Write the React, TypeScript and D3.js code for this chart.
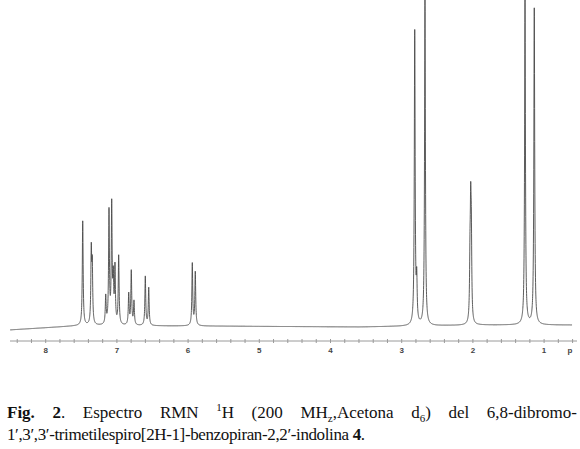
import React, { useLayoutEffect, useRef, useState } from "react";
import * as d3 from "d3";

// Peak positions (ppm) and heights (relative intensity, 0..100)
const peakPpm = [
  7.480, 7.360, 7.346, 7.157, 7.111, 7.073, 7.051, 7.027, 6.975,
  6.834, 6.798, 6.760, 6.601, 6.553, 5.941, 5.899,
  2.817, 2.789, 2.673, 2.041, 2.031, 2.022, 1.268, 1.138,
];
const peakHeight = [
  32, 22, 17, 8.5, 34.5, 36, 13, 17, 21,
  9.5, 16.5, 7.2, 15, 11.5, 19, 16.3,
  90, 12.5, 100, 16, 30, 23, 100, 97,
];

// Baseline drift knots (ppm, intensity offset)
const baselinePpm = [8.5, 7.52, 5.85, 3.6, 1.92, 0.61];
const baselineLevel = [-1.2, 0.1, 0, -0.3, 0.3, 0.3];

// Axis tick labels
const tickValues = [8, 7, 6, 5, 4, 3, 2, 1];
const unitLabel = "p";
const unitPpm = 0.636;

const W = 580;
const H = 449;
const FS = 17;
const SUB = 11;

// caption line 1, word by word (justified)
type Part = { t: string; bold?: boolean; shift?: number };
const line1Words: Part[][] = [
  [{ t: "Fig.", bold: true }],
  [{ t: "2", bold: true }, { t: "." }],
  [{ t: "Espectro" }],
  [{ t: "RMN" }],
  [{ t: "1", shift: -7 }, { t: "H" }],
  [{ t: "(200" }],
  [{ t: "MH" }, { t: "z", shift: 4 }, { t: ",Acetona" }],
  [{ t: "d" }, { t: "6", shift: 4 }, { t: ")" }],
  [{ t: "del" }],
  [{ t: "6,8-dibromo-" }],
];

function renderParts(parts: Part[]) {
  let cur = 0;
  return parts.map((p, i) => {
    const target = p.shift || 0;
    const dy = target - cur;
    cur = target;
    return (
      <tspan key={i} dy={dy} fontWeight={p.bold ? "bold" : undefined} fontSize={p.shift ? SUB : undefined}>
        {p.t}
      </tspan>
    );
  });
}

export default function App() {
  const wordRefs = useRef<(SVGTextElement | null)[]>([]);
  const [xs, setXs] = useState<number[] | null>(null);

  useLayoutEffect(() => {
    if (xs) return;
    const widths = wordRefs.current.map((el) => (el ? el.getComputedTextLength() : 0));
    const total = d3.sum(widths);
    const gap = (570 - total) / (widths.length - 1);
    const pos: number[] = [];
    let cx = 7;
    widths.forEach((w) => {
      pos.push(cx);
      cx += w + gap;
    });
    setXs(pos);
  }, [xs]);

  const x = d3.scaleLinear().domain([8, 1]).range([45.7, 544.1]);
  const y = d3.scaleLinear().domain([0, 100]).range([326, 0]);
  const base = d3.scaleLinear().domain(baselinePpm).range(baselineLevel).clamp(true);

  const hw = 0.5 / 71.2; // half width in ppm
  const samples = d3
    .range(8.5, 0.607, -0.0012)
    .concat(peakPpm)
    .sort((a, b) => b - a);
  const pts: [number, number][] = samples.map((p) => {
    let v = base(p);
    for (let i = 0; i < peakPpm.length; i++) {
      const d = (p - peakPpm[i]) / hw;
      v += peakHeight[i] / (1 + d * d);
    }
    return [p, v];
  });
  const line = d3
    .line<[number, number]>()
    .x((d) => x(d[0]))
    .y((d) => y(d[1]));

  const minorTicks = d3.range(84, 5, -2).map((v) => v / 10);
  const axisY = 341;

  return (
    <svg width={W} height={H} style={{ position: "absolute", left: 0, top: 0 }}>
      <rect width={W} height={H} fill="#fff" />
      <path d={line(pts) || ""} fill="none" stroke="#4a4a4a" strokeWidth={0.9} />
      <line x1={10} x2={577} y1={axisY} y2={axisY} stroke="#9a9a9a" strokeWidth={1} />
      {minorTicks.map((t) => (
        <line key={t} x1={x(t)} x2={x(t)} y1={axisY - 2} y2={axisY + 2} stroke="#9a9a9a" strokeWidth={1} />
      ))}
      {tickValues.map((t) => (
        <text key={t} x={x(t)} y={353} textAnchor="middle" fontFamily="Liberation Sans, Arial, sans-serif" fontSize={8} fontWeight="bold" fill="#444">
          {t}
        </text>
      ))}
      <text x={x(unitPpm)} y={353} textAnchor="middle" fontFamily="Liberation Sans, Arial, sans-serif" fontSize={8} fontWeight="bold" fill="#444">
        {unitLabel}
      </text>
      <g fontFamily="Liberation Serif, Times New Roman, serif" fontSize={FS} fill="#111">
        {line1Words.map((parts, i) => (
          <text
            key={i}
            ref={(el) => {
              wordRefs.current[i] = el;
            }}
            x={xs ? xs[i] : 7 + i * 56}
            y={418}
          >
            {renderParts(parts)}
          </text>
        ))}
        <text x={7} y={440} textLength={358} lengthAdjust="spacing">
          <tspan>1′,3′,3′-trimetilespiro[2H-1]-benzopiran-2,2′-indolina </tspan>
          <tspan fontWeight="bold">4</tspan>
          <tspan>.</tspan>
        </text>
      </g>
    </svg>
  );
}
